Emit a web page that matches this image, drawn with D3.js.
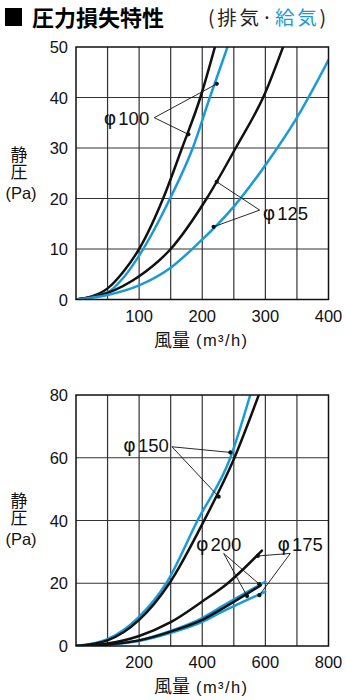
<!DOCTYPE html>
<html><head><meta charset="utf-8">
<script src="https://cdn.jsdelivr.net/npm/d3@7/dist/d3.min.js"></script>
<style>
html,body{margin:0;padding:0;background:#fff;}
svg{display:block;}
</style></head>
<body>
<svg id="chart" width="346" height="700"></svg>
<script>
// ---------- DATA ----------
const titleMain = "圧力損失特性";
const titleSub1 = "(排気·";
const titleSub2 = "給気";
const titleSub3 = ")";
const xAxisTitle = "風量";
const xAxisUnit = "(m³/h)";
const yAxisTitle = ["静圧", "(Pa)"];

// top chart
const topXDomain = [0, 400];
const topYDomain = [0, 50];
const topXGrid = [50, 100, 150, 200, 250, 300, 350];
const topYGrid = [10, 20, 30, 40];
const topXTicks = [100, 200, 300, 400];
const topYTicks = [0, 10, 20, 30, 40, 50];

const phi100ExhaustX = [0, 25, 50, 75, 100, 138, 168, 197, 220];
const phi100ExhaustY = [0, 0.6, 2.2, 5.5, 10, 20, 30, 40, 50];
const phi100SupplyX = [0, 50, 75, 100, 149, 185, 212, 240];
const phi100SupplyY = [0, 1.4, 4.3, 8.7, 20, 30, 40, 50];
const phi125ExhaustX = [0, 50, 100, 150, 207, 253, 300, 328];
const phi125ExhaustY = [0, 1.3, 4.6, 10, 20, 30, 41, 50];
const phi125SupplyX = [0, 50, 100, 150, 191, 250, 300, 350, 400];
const phi125SupplyY = [0, 0.9, 2.8, 6.3, 10.8, 18.4, 26.6, 36, 47.4];

// bottom chart
const botXDomain = [0, 800];
const botYDomain = [0, 80];
const botXGrid = [100, 200, 300, 400, 500, 600, 700];
const botYGrid = [20, 40, 60];
const botXTicks = [200, 400, 600, 800];
const botYTicks = [0, 20, 40, 60, 80];

const phi150ExhaustX = [0, 100, 200, 296, 406, 502, 579];
const phi150ExhaustY = [0, 1.8, 8.3, 20, 40, 60, 80];
const phi150SupplyX = [0, 100, 200, 286, 385, 489, 552];
const phi150SupplyY = [0, 2.2, 9.3, 20, 40, 60, 80];
const phi175ExhaustX = [0, 100, 200, 300, 400, 476, 589];
const phi175ExhaustY = [0, 0.8, 3.2, 7.6, 14.2, 19.6, 30.4];
const phi200ExhaustX = [0, 100, 200, 300, 400, 457, 585];
const phi200ExhaustY = [0, 0.5, 1.8, 4.6, 8.3, 11.5, 19.3];
const phi175SupplyX = [0, 100, 200, 300, 400, 457, 600];
const phi175SupplyY = [0, 0.5, 1.8, 4.8, 8.9, 12.3, 20.5];
const phi200SupplyX = [0, 100, 200, 300, 400, 457, 600];
const phi200SupplyY = [0, 0.4, 1.6, 4.2, 7.7, 10.6, 17.3];

// annotation labels (data units): symbol + size, label point, leader start, leader targets
const phiSymbol = "φ";
const topLabels = ["100", "125"];
const topLabelAt = [[80, 36], [331.7, 17.1]];
const topLeaderFrom = [[124, 36], [291, 17.7]];
const topLeaderTo = [[[178, 32.7], [223, 42.7]], [[223, 23.3], [218, 14.4]]];
const botLabels = ["150", "200", "175"];
const botLabelAt = [[222, 64], [452, 32.5], [710, 32.5]];
const botLeaderFrom = [[304, 63.5], [468, 29.5], [679, 29.5]];
const botLeaderTo = [[[489, 61.7], [452, 47.6]], [[581, 19.7], [542, 15.9]], [[576, 28.7], [581, 16.2]]];

// ---------- STYLE ----------
const BLUE = "#1b9ad8";
const BLACK = "#111";
const NUM_FONT = "'Liberation Sans', Arial, sans-serif";
const CJK_FONT = "'Noto Sans CJK JP', 'Noto Sans', sans-serif";

const svg = d3.select("#chart");

// title
svg.append("rect").attr("x", 5).attr("y", 8).attr("width", 17).attr("height", 18).attr("fill", "#000");
svg.append("text").attr("x", 32).attr("y", 25.5)
  .attr("font-family", CJK_FONT).attr("font-weight", "bold").attr("font-size", 22)
  .attr("fill", "#000").text(titleMain);
const sub = svg.append("text").attr("x", 208).attr("y", 25)
  .attr("font-family", CJK_FONT).attr("font-size", 19.5).attr("fill", "#222")
  .attr("textLength", 118).attr("lengthAdjust", "spacing");
sub.append("tspan").text(titleSub1);
sub.append("tspan").attr("fill", BLUE).text(titleSub2);
sub.append("tspan").text(titleSub3);

function zip(xs, ys) { return xs.map((x, i) => [x, ys[i]]); }

function drawPanel(cfg) {
  const x = d3.scaleLinear().domain(cfg.xDomain).range([cfg.left, cfg.right]);
  const y = d3.scaleLinear().domain(cfg.yDomain).range([cfg.bottom, cfg.top]);
  const g = svg.append("g");

  // grid
  g.selectAll("line.vx").data(cfg.xGrid).join("line")
    .attr("x1", d => x(d)).attr("x2", d => x(d))
    .attr("y1", y(cfg.yDomain[0])).attr("y2", y(cfg.yDomain[1]))
    .attr("stroke", "#333").attr("stroke-width", 1.2);
  g.selectAll("line.hy").data(cfg.yGrid).join("line")
    .attr("y1", d => y(d)).attr("y2", d => y(d))
    .attr("x1", x(cfg.xDomain[0])).attr("x2", x(cfg.xDomain[1]))
    .attr("stroke", "#333").attr("stroke-width", 1.2);

  const clipId = "clip" + cfg.id;
  svg.append("clipPath").attr("id", clipId).append("rect")
    .attr("x", cfg.left).attr("y", cfg.top)
    .attr("width", cfg.right - cfg.left).attr("height", cfg.bottom - cfg.top);

  const line = d3.line().x(d => x(d[0])).y(d => y(d[1])).curve(d3.curveMonotoneX);
  const cg = g.append("g").attr("clip-path", `url(#${clipId})`);
  cfg.series.forEach(s => {
    cg.append("path").attr("d", line(zip(s.x, s.y)))
      .attr("fill", "none").attr("stroke", s.color).attr("stroke-width", 2.5)
      .attr("stroke-linecap", "round");
  });

  // frame
  g.append("rect").attr("x", cfg.left).attr("y", cfg.top)
    .attr("width", cfg.right - cfg.left).attr("height", cfg.bottom - cfg.top)
    .attr("fill", "none").attr("stroke", "#111").attr("stroke-width", 1.5);

  // annotations
  cfg.labels.forEach((t, i) => {
    const from = cfg.leaderFrom[i];
    cfg.leaderTo[i].forEach(p => {
      g.append("line").attr("x1", x(from[0])).attr("y1", y(from[1]))
        .attr("x2", x(p[0])).attr("y2", y(p[1]))
        .attr("stroke", "#111").attr("stroke-width", 0.9);
      g.append("circle").attr("cx", x(p[0])).attr("cy", y(p[1])).attr("r", 2.1).attr("fill", "#111");
    });
    const tx = g.append("text").attr("x", x(cfg.labelAt[i][0])).attr("y", y(cfg.labelAt[i][1]))
      .attr("text-anchor", "middle").attr("dominant-baseline", "central")
      .attr("font-family", NUM_FONT).attr("font-size", 18.5).attr("fill", "#111");
    tx.append("tspan").attr("font-family", "'DejaVu Sans', sans-serif").attr("font-size", 19).text(phiSymbol);
    tx.append("tspan").attr("dx", 2).text(t);
  });

  // tick labels
  g.selectAll("text.xt").data(cfg.xTicks).join("text")
    .attr("x", d => x(d)).attr("y", cfg.bottom + 22)
    .attr("text-anchor", "middle")
    .attr("font-family", NUM_FONT).attr("font-size", 16.5).attr("fill", "#111")
    .text(d => d);
  g.selectAll("text.yt").data(cfg.yTicks).join("text")
    .attr("x", cfg.left - 8).attr("y", d => y(d))
    .attr("text-anchor", "end").attr("dominant-baseline", "central")
    .attr("font-family", NUM_FONT).attr("font-size", 16.5).attr("fill", "#111")
    .text(d => d);

  // x title
  g.append("text").attr("x", 154).attr("y", cfg.bottom + 47)
    .attr("font-family", CJK_FONT).attr("font-size", 18).attr("fill", "#111")
    .text(xAxisTitle);
  g.append("text").attr("x", 196).attr("y", cfg.bottom + 46.5)
    .attr("font-family", NUM_FONT).attr("font-size", 16.5).attr("fill", "#111")
    .attr("textLength", 51).attr("lengthAdjust", "spacing")
    .text(xAxisUnit);

  // y title (vertical CJK + unit)
  g.append("text").attr("x", 19).attr("y", cfg.yTitleTop)
    .attr("writing-mode", "vertical-rl")
    .attr("font-family", CJK_FONT).attr("font-size", 17).attr("fill", "#111")
    .text(yAxisTitle[0]);
  g.append("text").attr("x", 21).attr("y", cfg.yUnitY).attr("text-anchor", "middle")
    .attr("dominant-baseline", "central")
    .attr("font-family", NUM_FONT).attr("font-size", 16.5).attr("fill", "#111").text(yAxisTitle[1]);
}

drawPanel({
  id: "top", left: 76, right: 328.5, top: 47, bottom: 299.5,
  xDomain: topXDomain, yDomain: topYDomain, xGrid: topXGrid, yGrid: topYGrid,
  xTicks: topXTicks, yTicks: topYTicks, yTitleTop: 146.5, yUnitY: 192.5,
  series: [
    { x: phi100ExhaustX, y: phi100ExhaustY, color: BLACK },
    { x: phi100SupplyX, y: phi100SupplyY, color: BLUE },
    { x: phi125ExhaustX, y: phi125ExhaustY, color: BLACK },
    { x: phi125SupplyX, y: phi125SupplyY, color: BLUE }
  ],
  labels: topLabels, labelAt: topLabelAt, leaderFrom: topLeaderFrom, leaderTo: topLeaderTo
});

drawPanel({
  id: "bot", left: 76, right: 328.5, top: 395, bottom: 646,
  xDomain: botXDomain, yDomain: botYDomain, xGrid: botXGrid, yGrid: botYGrid,
  xTicks: botXTicks, yTicks: botYTicks, yTitleTop: 492, yUnitY: 539,
  series: [
    { x: phi175SupplyX, y: phi175SupplyY, color: BLUE },
    { x: phi200SupplyX, y: phi200SupplyY, color: BLUE },
    { x: phi175ExhaustX, y: phi175ExhaustY, color: BLACK },
    { x: phi200ExhaustX, y: phi200ExhaustY, color: BLACK },
    { x: phi150SupplyX, y: phi150SupplyY, color: BLUE },
    { x: phi150ExhaustX, y: phi150ExhaustY, color: BLACK }
  ],
  labels: botLabels, labelAt: botLabelAt, leaderFrom: botLeaderFrom, leaderTo: botLeaderTo
});
</script>
</body></html>
